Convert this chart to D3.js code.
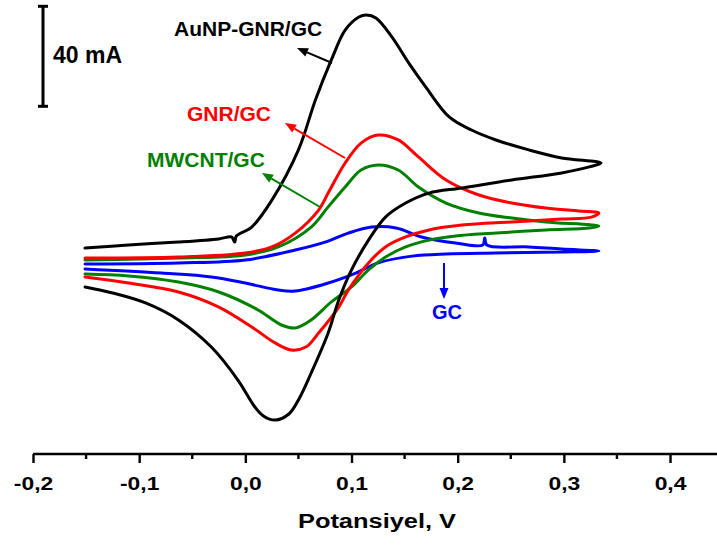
<!DOCTYPE html>
<html>
<head>
<meta charset="utf-8">
<script src="https://cdn.jsdelivr.net/npm/d3@7"></script>
<style>
  html, body { margin: 0; padding: 0; background: #ffffff; }
  svg { display: block; font-family: "Liberation Sans", Arial, sans-serif; font-weight: bold; }
</style>
</head>
<body>
<svg id="chart" width="717" height="547"></svg>
<script>
// ---------- Data (potential in V, current in mA) ----------
const seriesNames = ["AuNP-GNR/GC", "GNR/GC", "MWCNT/GC", "GC"];

// AuNP-GNR/GC: forward (anodic) scan then reverse (cathodic) scan
const auForwardV = [-0.151,-0.110,-0.063,-0.025,-0.013,-0.010,-0.0085,0.006,0.025,0.050,0.066,0.081,0.094,0.107,0.114,0.123,0.138,0.154,0.170,0.192,0.213,0.236,0.267,0.298,0.335];
const auForwardI = [4.9,6.2,7.4,8.7,9.5,7.4,9.9,13.6,24.7,45.4,66.0,82.5,94.8,100.2,101.0,99.8,92.0,81.2,71.3,59.0,53.6,49.5,45.4,42.1,40.0];
const auReverseV = [0.324,0.298,0.251,0.204,0.173,0.151,0.132,0.116,0.100,0.088,0.078,0.062,0.050,0.041,0.028,0.017,0.009,-0.007,-0.032,-0.063,-0.094,-0.125,-0.151];
const auReverseI = [38.4,35.9,33.0,29.7,27.6,23.5,17.7,8.2,-4.1,-16.5,-30.1,-46.6,-57.7,-63.5,-66.0,-64.3,-60.6,-49.5,-35.9,-24.7,-17.7,-13.6,-11.1];

// GNR/GC
const gnrForwardV = [-0.151,-0.063,0.000,0.025,0.047,0.069,0.078,0.094,0.109,0.125,0.144,0.163,0.189,0.220,0.251,0.283,0.314,0.333];
const gnrForwardI = [0.8,1.2,2.9,5.4,11.1,20.6,27.6,40.0,48.2,51.5,49.5,42.5,33.0,26.8,23.5,21.4,20.2,19.4];
const gnrReverseV = [0.326,0.298,0.251,0.204,0.173,0.151,0.132,0.116,0.097,0.088,0.069,0.057,0.043,0.028,0.006,-0.025,-0.063,-0.110,-0.151];
const gnrReverseI = [17.7,16.9,15.7,14.4,12.4,9.5,5.4,-1.2,-12.4,-19.4,-30.1,-35.9,-37.1,-34.2,-27.6,-19.4,-13.2,-9.5,-7.0];

// MWCNT/GC
const mwForwardV = [-0.151,-0.063,0.000,0.031,0.062,0.078,0.094,0.109,0.125,0.144,0.163,0.189,0.220,0.251,0.283,0.333];
const mwForwardI = [0.0,0.8,2.1,5.4,13.6,21.9,30.1,37.1,39.2,37.1,30.1,23.5,19.4,17.3,15.7,14.0];
const mwReverseV = [0.324,0.283,0.236,0.198,0.173,0.151,0.132,0.116,0.100,0.081,0.062,0.047,0.034,0.012,-0.025,-0.063,-0.110,-0.151];
const mwReverseI = [13.2,12.4,11.1,9.9,8.2,5.4,1.2,-4.1,-11.1,-17.3,-24.7,-28.0,-26.8,-20.6,-13.2,-9.1,-6.6,-5.8];

// GC (bare)
const gcForwardV = [-0.151,-0.063,0.000,0.047,0.078,0.097,0.119,0.142,0.166,0.198,0.2236,0.2255,0.2274,0.267,0.298,0.333];
const gcForwardI = [-1.6,-1.2,0.0,4.1,7.8,11.1,13.6,13.2,9.5,7.0,6.2,9.1,6.2,5.4,4.5,3.7];
const gcReverseV = [0.298,0.236,0.189,0.157,0.125,0.104,0.078,0.047,0.031,0.000,-0.032,-0.079,-0.151];
const gcReverseI = [3.3,2.9,2.5,1.6,-1.2,-5.4,-9.5,-12.8,-12.4,-9.5,-7.0,-5.4,-3.7];

// Axis ticks
const majorTicks = [-0.2, -0.1, 0.0, 0.1, 0.2, 0.3, 0.4];
const minorTicks = [-0.15, -0.05, 0.05, 0.15, 0.25, 0.35];
const tickLabels = ["-0,2", "-0,1", "0,0", "0,1", "0,2", "0,3", "0,4"];
const xTitle = "Potansiyel, V";

// Scale bar (mA)
const scaleBarFrom = 64, scaleBarTo = 104;
const scaleBarLabel = "40 mA";

// ---------- Drawing ----------
const svg = d3.select("#chart");

const x = d3.scaleLinear().domain([-0.2, 0.45]).range([33, 33 + 0.65 * 1061.7]);
const y = d3.scaleLinear().domain([-80, 100]).range([454, 454 - 180 * 2.425]);

function zipLoop(fv, fi, rv, ri) {
  const pts = fv.map((v, k) => [v, fi[k]]);
  return pts.concat(rv.map((v, k) => [v, ri[k]]));
}

const series = [
  { name: seriesNames[0], color: "#000000", pts: zipLoop(auForwardV, auForwardI, auReverseV, auReverseI) },
  { name: seriesNames[1], color: "#ff0000", pts: zipLoop(gnrForwardV, gnrForwardI, gnrReverseV, gnrReverseI) },
  { name: seriesNames[2], color: "#008000", pts: zipLoop(mwForwardV, mwForwardI, mwReverseV, mwReverseI) },
  { name: seriesNames[3], color: "#0000ff", pts: zipLoop(gcForwardV, gcForwardI, gcReverseV, gcReverseI) }
];

const line = d3.line()
  .x(d => x(d[0]))
  .y(d => y(d[1]))
  .curve(d3.curveCatmullRom.alpha(0.5));

// draw in order: blue, green, red, black (black on top)
svg.append("g").selectAll("path")
  .data(series.slice().reverse())
  .join("path")
  .attr("d", d => line(d.pts))
  .attr("fill", "none")
  .attr("stroke", d => d.color)
  .attr("stroke-width", 3)
  .attr("stroke-linejoin", "round")
  .attr("stroke-linecap", "round");

// ---------- X axis ----------
const axisY = 454;
const axisG = svg.append("g").attr("transform", `translate(0,${axisY})`);
axisG.call(d3.axisBottom(x).tickValues(majorTicks).tickSize(9).tickSizeOuter(0)
  .tickFormat((d, i) => tickLabels[i]));
axisG.select(".domain").attr("stroke", "#000").attr("stroke-width", 2.6)
  .attr("d", `M${x(-0.2)},0H${x(0.45)}`);
axisG.selectAll(".tick line").attr("stroke", "#000").attr("stroke-width", 2.4);
axisG.selectAll(".tick text")
  .attr("y", 0)
  .attr("dy", 0)
  .attr("transform", "translate(0,36) scale(1.27,1)")
  .attr("fill", "#000")
  .style("font-family", "'Liberation Sans', Arial, sans-serif")
  .style("font-weight", "bold")
  .style("font-size", "18px");

axisG.selectAll(".minor")
  .data(minorTicks)
  .join("line")
  .attr("class", "minor")
  .attr("x1", d => x(d)).attr("x2", d => x(d))
  .attr("y1", 0).attr("y2", 5)
  .attr("stroke", "#000").attr("stroke-width", 2.4);

svg.append("text")
  .attr("transform", `translate(${377},528) scale(1.27,1)`)
  .attr("text-anchor", "middle")
  .style("font-size", "20px")
  .attr("fill", "#000")
  .text(xTitle);

// ---------- Scale bar ----------
const sbX = 43;
const sb = svg.append("g").attr("stroke", "#000").attr("stroke-width", 3);
sb.append("line").attr("x1", sbX).attr("x2", sbX).attr("y1", y(scaleBarFrom) + 1.5).attr("y2", y(scaleBarTo) - 1.5);
sb.append("line").attr("x1", sbX - 5).attr("x2", sbX + 5).attr("y1", y(scaleBarFrom) + 1.5).attr("y2", y(scaleBarFrom) + 1.5);
sb.append("line").attr("x1", sbX - 5).attr("x2", sbX + 5).attr("y1", y(scaleBarTo) - 1.5).attr("y2", y(scaleBarTo) - 1.5);
svg.append("text").attr("x", 53).attr("y", 63)
  .style("font-size", "23px").attr("fill", "#000").text(scaleBarLabel);

// ---------- Annotations (labels + arrows) ----------
const annotations = [
  { text: seriesNames[0], color: "#000000", tx: 174, ty: 36, size: 21, from: [332, 63], to: [297, 48] },
  { text: seriesNames[1], color: "#ff0000", tx: 187, ty: 121, size: 21, from: [345, 158], to: [285, 123] },
  { text: seriesNames[2], color: "#008000", tx: 147, ty: 167, size: 21, from: [320, 207], to: [262, 173] },
  { text: seriesNames[3], color: "#0000ff", tx: 432, ty: 319, size: 20, from: [444, 263], to: [444, 299] }
];

annotations.forEach(a => {
  svg.append("text").attr("x", a.tx).attr("y", a.ty)
    .style("font-size", a.size + "px").attr("fill", a.color).text(a.text);
  const dx = a.to[0] - a.from[0], dy = a.to[1] - a.from[1];
  const len = Math.hypot(dx, dy);
  const ux = dx / len, uy = dy / len;
  const headL = 11, headW = 4.5;
  const bx = a.to[0] - ux * headL, by = a.to[1] - uy * headL;
  svg.append("line")
    .attr("x1", a.from[0]).attr("y1", a.from[1])
    .attr("x2", bx).attr("y2", by)
    .attr("stroke", a.color).attr("stroke-width", 2);
  svg.append("path")
    .attr("d", `M${a.to[0]},${a.to[1]}L${bx - uy * headW},${by + ux * headW}L${bx + uy * headW},${by - ux * headW}Z`)
    .attr("fill", a.color);
});
</script>
</body>
</html>
